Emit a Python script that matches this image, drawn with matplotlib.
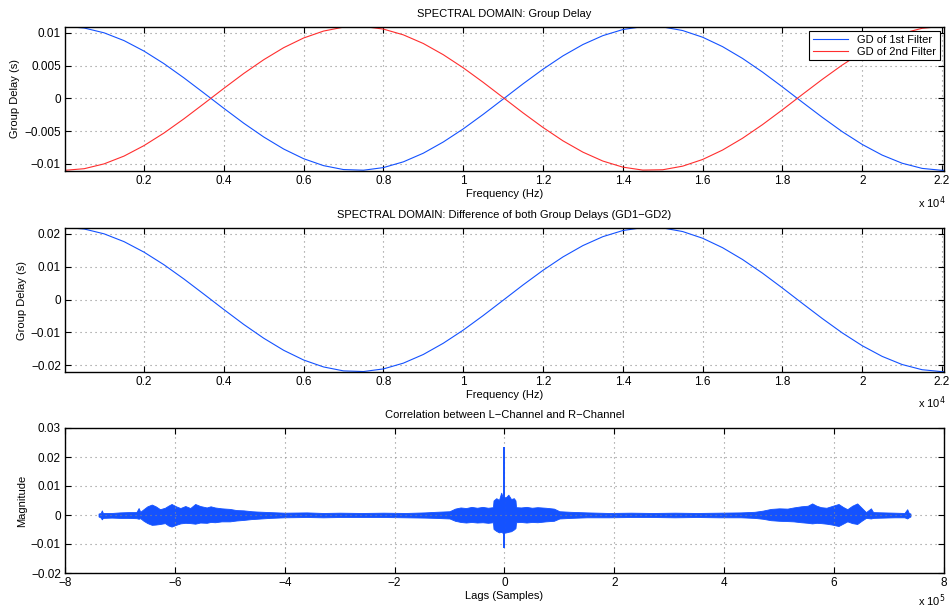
import matplotlib
matplotlib.use('Agg')
import matplotlib.pyplot as plt
import numpy as np
from matplotlib.ticker import FuncFormatter


# frequency grid (Hz)
freq = [0, 500, 1000, 1500, 2000, 2500, 3000, 3500, 4000, 4500, 5000, 5500,
        6000, 6500, 7000, 7500, 8000, 8500, 9000, 9500, 10000, 10500, 11000,
        11500, 12000, 12500, 13000, 13500, 14000, 14500, 15000, 15500, 16000,
        16500, 17000, 17500, 18000, 18500, 19000, 19500, 20000, 20500, 21000,
        21500, 22000, 22050]

gd1 = [0.0110, 0.01075, 0.01001, 0.00882, 0.00722, 0.00530, 0.00313, 0.00082,
       -0.00152, -0.00380, -0.00590, -0.00774, -0.00922, -0.01028, -0.01088,
       -0.01098, -0.01058, -0.00970, -0.00838, -0.00667, -0.00467, -0.00245,
       -0.00012, 0.00222, 0.00445, 0.00649, 0.00822, 0.00958, 0.01051, 0.01096,
       0.01091, 0.01036, 0.00934, 0.00790, 0.00610, 0.00402, 0.00175, -0.00059,
       -0.00290, -0.00509, -0.00704, -0.00867, -0.00991, -0.01070, -0.01100,
       -0.0110]

gd2 = [-0.0110, -0.01075, -0.01001, -0.00882, -0.00722, -0.00530, -0.00313,
       -0.00082, 0.00152, 0.00380, 0.00590, 0.00774, 0.00922, 0.01028, 0.01088,
       0.01098, 0.01058, 0.00970, 0.00838, 0.00667, 0.00467, 0.00245, 0.00012,
       -0.00222, -0.00445, -0.00649, -0.00822, -0.00958, -0.01051, -0.01096,
       -0.01091, -0.01036, -0.00934, -0.00790, -0.00610, -0.00402, -0.00175,
       0.00059, 0.00290, 0.00509, 0.00704, 0.00867, 0.00991, 0.01070, 0.01100,
       0.0110]

gd_diff = [0.0220, 0.0215, 0.02002, 0.01764, 0.01444, 0.01060, 0.00626,
           0.00164, -0.00304, -0.00760, -0.01180, -0.01548, -0.01844, -0.02056,
           -0.02176, -0.02196, -0.02116, -0.01940, -0.01676, -0.01334, -0.00934,
           -0.00490, -0.00024, 0.00444, 0.00890, 0.01298, 0.01644, 0.01916,
           0.02102, 0.02192, 0.02182, 0.02072, 0.01868, 0.01580, 0.01220,
           0.00804, 0.00350, -0.00118, -0.00580, -0.01018, -0.01408, -0.01734,
           -0.01982, -0.02140, -0.02200, -0.0220]

# correlation envelope, lags in samples
lags = [-7.39e5, -7.35e5, -7.33e5, -7.31e5, -7.15e5, -7.00e5, -6.85e5,
        -6.70e5, -6.66e5, -6.63e5, -6.57e5, -6.50e5, -6.42e5, -6.35e5,
        -6.27e5, -6.18e5, -6.12e5, -6.06e5, -5.98e5, -5.90e5, -5.81e5,
        -5.72e5, -5.63e5, -5.54e5, -5.42e5, -5.35e5, -5.27e5, -5.15e5,
        -5.00e5, -4.88e5, -4.75e5, -4.60e5, -4.51e5, -4.27e5, -4.00e5,
        -3.60e5, -3.30e5, -3.00e5, -2.60e5, -2.20e5, -1.80e5, -1.45e5,
        -1.25e5, -1.00e5, -0.90e5, -0.80e5, -0.70e5, -0.60e5, -0.50e5,
        -0.40e5, -0.30e5, -0.21e5, -0.20e5, -0.15e5, -0.10e5, -0.06e5,
        -0.03e5, 0.03e5, 0.07e5, 0.12e5, 0.17e5, 0.20e5, 0.21e5, 0.30e5,
        0.40e5, 0.50e5, 0.60e5, 0.75e5, 0.90e5, 1.00e5, 1.20e5, 1.50e5,
        1.90e5, 2.30e5, 2.70e5, 3.10e5, 3.50e5, 3.90e5, 4.30e5, 4.55e5,
        4.70e5, 4.85e5, 5.00e5, 5.15e5, 5.26e5, 5.40e5, 5.52e5, 5.60e5,
        5.68e5, 5.76e5, 5.86e5, 5.96e5, 6.08e5, 6.16e5, 6.24e5, 6.33e5,
        6.42e5, 6.50e5, 6.58e5, 6.67e5, 6.71e5, 6.90e5, 7.10e5, 7.28e5,
        7.33e5, 7.36e5, 7.39e5]

corr_upper = [0.0005, 0.0007, 0.0016, 0.0007, 0.0007, 0.0009, 0.0010,
              0.0010, 0.0024, 0.0011, 0.0020, 0.0030, 0.0036, 0.0030,
              0.0020, 0.0025, 0.0032, 0.0038, 0.0030, 0.0024, 0.0031,
              0.0024, 0.0038, 0.0031, 0.0026, 0.0030, 0.0026, 0.0023,
              0.0021, 0.0017, 0.0016, 0.0013, 0.0012, 0.0010, 0.0008,
              0.0009, 0.0007, 0.0008, 0.0007, 0.0008, 0.0007, 0.0009,
              0.0011, 0.0013, 0.0022, 0.0026, 0.0024, 0.0028, 0.0025,
              0.0028, 0.0025, 0.0027, 0.0050, 0.0058, 0.0052, 0.0077,
              0.0060, 0.0062, 0.0070, 0.0055, 0.0058, 0.0050, 0.0027, 0.0026,
              0.0028, 0.0025, 0.0027, 0.0025, 0.0022, 0.0013, 0.0011, 0.0009,
              0.0007, 0.0008, 0.0007, 0.0008, 0.0007, 0.0008, 0.0009, 0.0011,
              0.0015, 0.0021, 0.0023, 0.0022, 0.0026, 0.0030, 0.0032, 0.0040,
              0.0032, 0.0027, 0.0025, 0.0031, 0.0038, 0.0028, 0.0020, 0.0032,
              0.0040, 0.0025, 0.0010, 0.0023, 0.0010, 0.0009, 0.0008, 0.0007,
              0.0020, 0.0007, 0.0005]

corr_lower = [-0.0005, -0.0009, -0.0015, -0.0010, -0.0009, -0.0010, -0.0010,
              -0.0011, -0.0013, -0.0011, -0.0020, -0.0028, -0.0034, -0.0033,
              -0.0031, -0.0028, -0.0036, -0.0040, -0.0034, -0.0029, -0.0027,
              -0.0028, -0.0030, -0.0026, -0.0027, -0.0024, -0.0025, -0.0022,
              -0.0022, -0.0019, -0.0017, -0.0014, -0.0013, -0.0010, -0.0008,
              -0.0007, -0.0008, -0.0007, -0.0007, -0.0007, -0.0008, -0.0009,
              -0.0010, -0.0012, -0.0020, -0.0024, -0.0026, -0.0024, -0.0026,
              -0.0025, -0.0027, -0.0025, -0.0048, -0.0055, -0.0060, -0.0058,
              -0.0062, -0.0060, -0.0058, -0.0056, -0.0050, -0.0045, -0.0025,
              -0.0024, -0.0026, -0.0024, -0.0025, -0.0022, -0.0020, -0.0012,
              -0.0010, -0.0008, -0.0008, -0.0007, -0.0007, -0.0008, -0.0007,
              -0.0008, -0.0008, -0.0010, -0.0013, -0.0018, -0.0020, -0.0021,
              -0.0022, -0.0025, -0.0027, -0.0029, -0.0027, -0.0028, -0.0030,
              -0.0033, -0.0038, -0.0030, -0.0022, -0.0028, -0.0031, -0.0020,
              -0.0010, -0.0012, -0.0010, -0.0009, -0.0008, -0.0008, -0.0012,
              -0.0008, -0.0005]

spike_lag = [0.0]
spike_top = [0.0235]
spike_bottom = [-0.0115]

assert len(lags) == len(corr_upper) == len(corr_lower)

BLUE = '#1452ff'
RED = '#ff2e2e'

plt.rcParams['font.family'] = ['Liberation Sans', 'DejaVu Sans']
plt.rcParams['font.size'] = 8
plt.rcParams['axes.unicode_minus'] = True


def matlab_axes(ax):
    ax.grid(True, linestyle=(0, (1, 3.5)), color='0.55', linewidth=0.8)
    ax.tick_params(direction='in', top=True, right=True, length=4.5,
                   width=0.8, labelsize=8.5, pad=3)
    for s in ax.spines.values():
        s.set_linewidth(1.0)


def num(v, pos):
    return ('%g' % round(v, 6)).replace('-', '\u2212')


def scaled(scale):
    return FuncFormatter(lambda v, pos: num(v / scale, pos))


fig = plt.figure(figsize=(9.5, 6.08), dpi=100)
L, W = 65 / 950, (944 - 65) / 950

ax1 = fig.add_axes([L, 1 - 171 / 608, W, 144 / 608])
ax1.plot(freq, gd1, color=BLUE, lw=0.8, label='GD of 1st Filter')
ax1.plot(freq, gd2, color=RED, lw=0.8, label='GD of 2nd Filter')
ax1.set_xlim(20, 22050)
ax1.set_ylim(-0.0111, 0.0109)
ax1.set_xticks(np.arange(2000, 22001, 2000))
ax1.set_yticks([-0.01, -0.005, 0, 0.005, 0.01])
ax1.xaxis.set_major_formatter(scaled(1e4))
ax1.yaxis.set_major_formatter(FuncFormatter(num))
ax1.set_title('SPECTRAL DOMAIN: Group Delay', fontsize=8, pad=7)
ax1.set_xlabel('Frequency (Hz)', labelpad=1)
ax1.set_ylabel('Group Delay (s)', labelpad=3)
leg = ax1.legend(loc='upper right', fontsize=8, fancybox=False,
                 edgecolor='black', framealpha=1, borderaxespad=0.4,
                 handlelength=3.2, borderpad=0.3, labelspacing=0.2)
leg.get_frame().set_linewidth(0.8)
matlab_axes(ax1)

ax2 = fig.add_axes([L, 1 - 372 / 608, W, 144 / 608])
ax2.plot(freq, gd_diff, color=BLUE, lw=0.8)
ax2.set_xlim(20, 22050)
ax2.set_ylim(-0.0221, 0.0218)
ax2.set_xticks(np.arange(2000, 22001, 2000))
ax2.set_yticks([-0.02, -0.01, 0, 0.01, 0.02])
ax2.xaxis.set_major_formatter(scaled(1e4))
ax2.yaxis.set_major_formatter(FuncFormatter(num))
ax2.set_title('SPECTRAL DOMAIN: Difference of both Group Delays (GD1\u2212GD2)',
              fontsize=8, pad=7)
ax2.set_xlabel('Frequency (Hz)', labelpad=1)
ax2.set_ylabel('Group Delay (s)', labelpad=3)
matlab_axes(ax2)

ax3 = fig.add_axes([L, 1 - 573 / 608, W, 145 / 608])
ax3.fill_between(lags, corr_lower, corr_upper, color=BLUE, lw=0.6,
                 edgecolor=BLUE)
ax3.vlines(spike_lag, spike_bottom, spike_top, color=BLUE, lw=1.4)
ax3.set_xlim(-8e5, 8e5)
ax3.set_ylim(-0.02, 0.03)
ax3.set_xticks(np.arange(-8e5, 8.01e5, 2e5))
ax3.set_yticks([-0.02, -0.01, 0, 0.01, 0.02, 0.03])
ax3.xaxis.set_major_formatter(scaled(1e5))
ax3.yaxis.set_major_formatter(FuncFormatter(num))
ax3.set_title('Correlation between L\u2212Channel and R\u2212Channel',
              fontsize=8, pad=7)
ax3.set_xlabel('Lags (Samples)', labelpad=1)
ax3.set_ylabel('Magnitude', labelpad=3)
matlab_axes(ax3)

# MATLAB style exponent labels at the lower right of each panel
for ypix, txt in [(203, r'x 10$^4$'), (403, r'x 10$^4$'), (601, r'x 10$^5$')]:
    fig.text(918 / 950, 1 - ypix / 608, txt, ha='left', va='center',
             fontsize=8)

fig.savefig('out.png', dpi=100)
